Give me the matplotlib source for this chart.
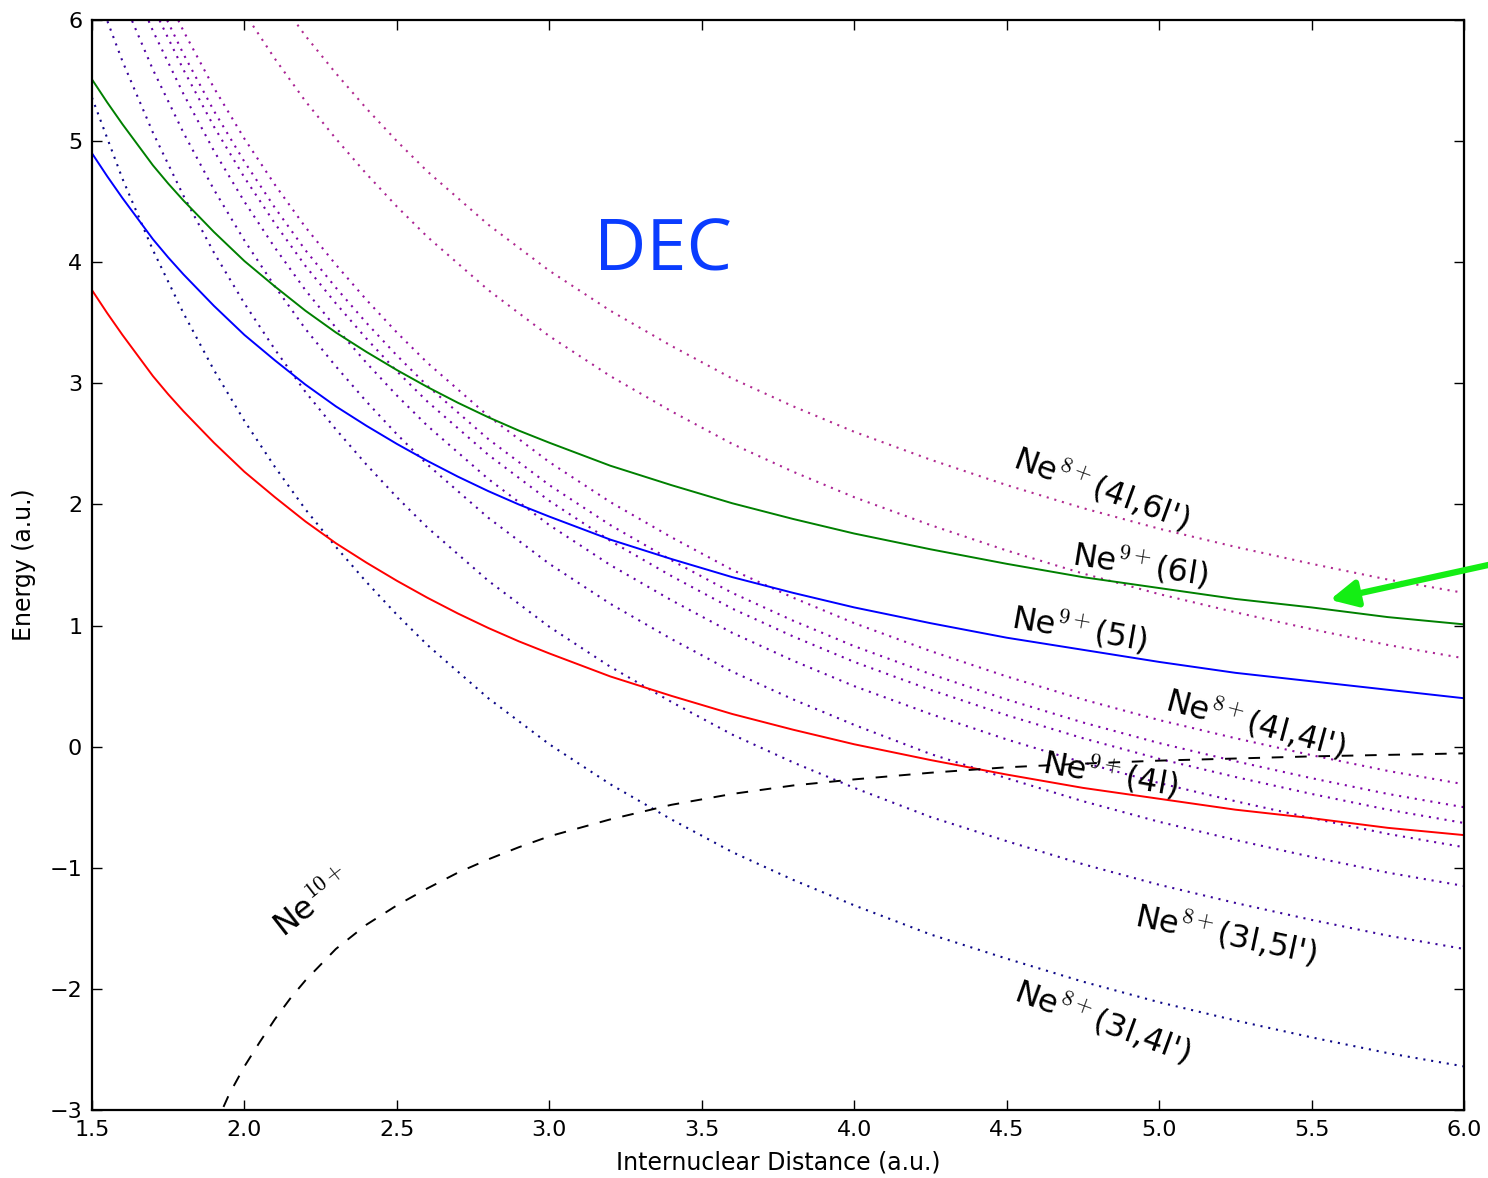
import matplotlib
matplotlib.use("Agg")
import matplotlib.pyplot as plt
import numpy as np

plt.rcParams['font.family'] = ['DejaVu Sans']
plt.rcParams['mathtext.fontset'] = 'cm'

# ---- data ----
# x positions for the solid Ne9+ curves
Rs = [1.5, 1.55, 1.6, 1.65, 1.7, 1.75, 1.8, 1.85, 1.9, 1.95, 2.0, 2.1, 2.2, 2.3, 2.4,
      2.5, 2.6, 2.7, 2.8, 2.9, 3.0, 3.2, 3.4, 3.6, 3.8, 4.0, 4.25, 4.5, 4.75, 5.0,
      5.25, 5.5, 5.75, 6.0]

# Ne9+(nl) curves (solid)
ne9_4l = [3.77, 3.58, 3.40, 3.23, 3.06, 2.91, 2.77, 2.64, 2.51, 2.39, 2.27, 2.06, 1.86,
          1.68, 1.52, 1.37, 1.23, 1.10, 0.98, 0.87, 0.77, 0.58, 0.42, 0.27, 0.14, 0.02,
          -0.11, -0.23, -0.34, -0.43, -0.52, -0.59, -0.67, -0.73]
ne9_5l = [4.90, 4.71, 4.53, 4.36, 4.19, 4.04, 3.90, 3.77, 3.64, 3.52, 3.40, 3.19, 2.99,
          2.81, 2.65, 2.50, 2.36, 2.23, 2.11, 2.00, 1.90, 1.71, 1.55, 1.40, 1.27, 1.15,
          1.02, 0.90, 0.80, 0.70, 0.61, 0.54, 0.47, 0.40]
ne9_6l = [5.51, 5.32, 5.14, 4.97, 4.80, 4.65, 4.51, 4.38, 4.25, 4.13, 4.01, 3.80, 3.60,
          3.42, 3.26, 3.11, 2.97, 2.84, 2.72, 2.61, 2.51, 2.32, 2.16, 2.01, 1.88, 1.76,
          1.63, 1.51, 1.40, 1.31, 1.22, 1.15, 1.07, 1.01]

# x positions for the dotted Ne8+ curves
R = [1.5, 1.6, 1.7, 1.8, 1.9, 2.0, 2.1, 2.2, 2.3, 2.4, 2.5, 2.6, 2.7, 2.8, 2.9, 3.0,
     3.2, 3.4, 3.6, 3.8, 4.0, 4.25, 4.5, 4.75, 5.0, 5.25, 5.5, 5.75, 6.0]

# Ne8+ double-capture curves (dotted)
ne8_3l4l = [5.36, 4.69, 4.10, 3.58, 3.11, 2.69, 2.31, 1.96, 1.65, 1.36, 1.09, 0.84, 0.62,
            0.40, 0.21, 0.02, -0.31, -0.60, -0.87, -1.10, -1.31, -1.55, -1.75, -1.94,
            -2.11, -2.26, -2.40, -2.53, -2.64]
ne8_3l5l = [6.33, 5.66, 5.07, 4.55, 4.08, 3.66, 3.28, 2.93, 2.62, 2.33, 2.06, 1.81, 1.59,
            1.37, 1.18, 0.99, 0.66, 0.37, 0.10, -0.13, -0.34, -0.58, -0.78, -0.97,
            -1.14, -1.29, -1.43, -1.56, -1.67]
ne8_3l6l = [6.85, 6.18, 5.59, 5.07, 4.60, 4.18, 3.80, 3.45, 3.14, 2.85, 2.58, 2.33, 2.11,
            1.89, 1.70, 1.51, 1.18, 0.89, 0.62, 0.39, 0.18, -0.06, -0.26, -0.45,
            -0.62, -0.77, -0.91, -1.04, -1.15]
ne8_3l7l = [7.17, 6.50, 5.91, 5.39, 4.92, 4.50, 4.12, 3.77, 3.46, 3.17, 2.90, 2.65, 2.43,
            2.21, 2.02, 1.83, 1.50, 1.21, 0.94, 0.71, 0.50, 0.27, 0.06, -0.13,
            -0.30, -0.45, -0.59, -0.72, -0.83]
ne8_3l8l = [7.37, 6.70, 6.11, 5.59, 5.12, 4.70, 4.32, 3.97, 3.66, 3.37, 3.10, 2.85, 2.63,
            2.41, 2.22, 2.03, 1.70, 1.41, 1.14, 0.91, 0.70, 0.47, 0.26, 0.07,
            -0.10, -0.25, -0.39, -0.52, -0.63]
ne8_3l9l = [7.50, 6.83, 6.24, 5.72, 5.25, 4.83, 4.45, 4.10, 3.79, 3.50, 3.23, 2.98, 2.76,
            2.54, 2.35, 2.16, 1.83, 1.54, 1.27, 1.04, 0.83, 0.60, 0.39, 0.20,
            0.03, -0.12, -0.26, -0.39, -0.50]
ne8_4l4l = [7.69, 7.02, 6.43, 5.91, 5.44, 5.02, 4.64, 4.29, 3.98, 3.69, 3.42, 3.17, 2.95,
            2.73, 2.54, 2.35, 2.02, 1.73, 1.46, 1.23, 1.02, 0.79, 0.58, 0.39,
            0.22, 0.07, -0.07, -0.20, -0.31]
ne8_4l5l = [8.73, 8.06, 7.47, 6.95, 6.48, 6.06, 5.68, 5.33, 5.02, 4.73, 4.46, 4.21, 3.99,
            3.77, 3.58, 3.39, 3.06, 2.77, 2.50, 2.27, 2.06, 1.83, 1.62, 1.43,
            1.26, 1.11, 0.97, 0.84, 0.73]
ne8_4l6l = [9.27, 8.60, 8.01, 7.49, 7.02, 6.60, 6.22, 5.87, 5.56, 5.27, 5.00, 4.75, 4.53,
            4.31, 4.12, 3.93, 3.60, 3.31, 3.04, 2.81, 2.60, 2.37, 2.16, 1.97,
            1.80, 1.65, 1.51, 1.38, 1.27]

# Ne10+ curve (dashed)
R10 = [1.90, 1.95, 2.00, 2.05, 2.10, 2.15, 2.20, 2.25, 2.30, 2.40, 2.50, 2.60, 2.70,
       2.80, 2.90, 3.00, 3.20, 3.40, 3.60, 3.80, 4.00, 4.25, 4.50, 4.75, 5.00, 5.50, 6.00]
ne10 = [-3.15, -2.87, -2.64, -2.44, -2.25, -2.08, -1.93, -1.80, -1.67, -1.47, -1.31,
        -1.17, -1.04, -0.93, -0.83, -0.74, -0.60, -0.48, -0.39, -0.32, -0.27, -0.215,
        -0.17, -0.14, -0.115, -0.08, -0.055]

dotted = [ne8_3l4l, ne8_3l5l, ne8_3l6l, ne8_3l7l, ne8_3l8l, ne8_3l9l,
          ne8_4l4l, ne8_4l5l, ne8_4l6l]
dotted_cvals = [0.0, 0.08, 0.14, 0.18, 0.22, 0.25, 0.30, 0.38, 0.40]

labels = ["Ne$^{8+}$(4l,6l')", "Ne$^{9+}$(6l)", "Ne$^{9+}$(5l)",
          "Ne$^{8+}$(4l,4l')", "Ne$^{9+}$(4l)", "Ne$^{8+}$(3l,5l')",
          "Ne$^{8+}$(3l,4l')", "Ne$^{10+}$"]
label_x = [4.813, 4.940, 4.740, 5.318, 4.839, 5.219, 4.816, 2.225]
label_y = [2.137, 1.502, 0.974, 0.198, -0.223, -1.551, -2.269, -1.300]
label_rot = [-20, -9, -10, -15, -10, -12, -20, 38]

# ---- figure ----
fig = plt.figure(figsize=(14.88, 11.78), dpi=100)
ax = fig.add_axes([0.0618, 0.0577, 0.9221, 0.9253])

cmap = plt.cm.plasma
for ys, cv in zip(dotted, dotted_cvals):
    ax.plot(R, ys, linestyle=(0, (1, 2.8)), lw=1.5, color=cmap(cv))

ax.plot(Rs, ne9_4l, color='red', lw=1.4)
ax.plot(Rs, ne9_5l, color='blue', lw=1.4)
ax.plot(Rs, ne9_6l, color='green', lw=1.4)
ax.plot(R10, ne10, color='black', lw=1.4, linestyle=(0, (6, 6)))

for t, x, y, r in zip(labels, label_x, label_y, label_rot):
    ax.text(x, y, t, fontsize=23, rotation=r, rotation_mode='anchor',
            ha='center', va='center')

ax.text(3.373, 3.93, "DEC", fontsize=52, color='#0a3cff',
        family=['Open Sans', 'DejaVu Sans'], ha='center', va='baseline')

ax.annotate('', xy=(5.56, 1.213), xytext=(6.16, 1.545),
            arrowprops=dict(arrowstyle='-|>', color='#14ee14', lw=4.5,
                            mutation_scale=40, shrinkA=0, shrinkB=0),
            annotation_clip=False)

ax.set_xlim(1.5, 6.0)
ax.set_ylim(-3, 6)
ax.set_xticks(np.arange(1.5, 6.01, 0.5))
ax.set_xticklabels([f"{v:.1f}" for v in np.arange(1.5, 6.01, 0.5)])
ax.set_yticks(range(-3, 7))
ax.tick_params(direction='in', top=True, right=True, length=7, width=1,
               labelsize=16, pad=7)
for s in ax.spines.values():
    s.set_linewidth(1.6)

ax.set_xlabel("Internuclear Distance (a.u.)", fontsize=17, labelpad=8)
ax.set_ylabel("Energy (a.u.)", fontsize=17, labelpad=10)

fig.savefig("out.png", dpi=100)
